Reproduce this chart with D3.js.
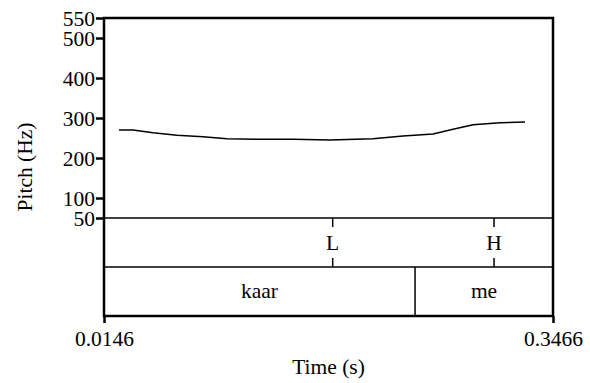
<!DOCTYPE html>
<html>
<head>
<meta charset="utf-8">
<script src="https://cdn.jsdelivr.net/npm/d3@7"></script>
<style>
  html, body { margin: 0; padding: 0; background: #fff; }
</style>
</head>
<body>
<svg id="chart" width="590" height="383"></svg>
<script>
// Time window of the sound (s)
const timeRange = [0.0146, 0.3466];
// Pitch axis range and labelled ticks (Hz)
const pitchRange = [50, 550];
const pitchTicks = [50, 100, 200, 300, 400, 500, 550];

// Pitch contour: times (s) and F0 values (Hz)
const pitchTimes = [0.0257, 0.0360, 0.0508, 0.0686, 0.0878, 0.1055, 0.1299, 0.1543,
                    0.1817, 0.2135, 0.2357, 0.2579, 0.2727, 0.2875, 0.3074, 0.3259];
const pitchValues = [270, 270, 263, 257, 253, 248, 247, 247,
                     245, 248, 255, 260, 272, 283, 288, 290];

// Tone tier (point tier)
const toneTimes = [0.1837, 0.3030];
const toneLabels = ["L", "H"];

// Word tier (interval tier): boundaries and labels
const wordBounds = [0.0146, 0.2446, 0.3466];
const wordLabels = ["kaar", "me"];

const svg = d3.select("#chart");
const frame = { left: 104, right: 553, top: 18, pitchBottom: 218, tier1Bottom: 267, bottom: 316 };
const fontSize = 21.5;
const serif = "'Liberation Serif', 'Times New Roman', serif";

const x = d3.scaleLinear().domain(timeRange).range([frame.left, frame.right]);
const y = d3.scaleLinear().domain(pitchRange).range([frame.pitchBottom, frame.top]);

function label(sel) {
  return sel.style("font-family", serif).style("font-size", fontSize + "px").attr("fill", "#000");
}

// Pitch contour
const line = d3.line().x((d, i) => x(pitchTimes[i])).y(d => y(d));
svg.append("path")
  .datum(pitchValues)
  .attr("d", line)
  .attr("fill", "none")
  .attr("stroke", "#000")
  .attr("stroke-width", 1.5);

// Left pitch axis
const yAxis = d3.axisLeft(y).tickValues(pitchTicks).tickSize(8).tickSizeOuter(0).tickPadding(1);
const gy = svg.append("g").attr("transform", `translate(${frame.left},0)`).call(yAxis);
gy.select(".domain").remove();
gy.selectAll(".tick line").attr("stroke", "#000").attr("stroke-width", 2.5);
label(gy.selectAll(".tick text")).attr("dy", "0.34em");

// Bottom time axis (end points only)
const xAxis = d3.axisBottom(x).tickValues(timeRange).tickSize(7).tickSizeOuter(0)
  .tickFormat(d3.format(".4f")).tickPadding(8);
const gx = svg.append("g").attr("transform", `translate(0,${frame.bottom})`).call(xAxis);
gx.select(".domain").remove();
gx.selectAll(".tick line").attr("stroke", "#000").attr("stroke-width", 2.5);
label(gx.selectAll(".tick text"));

// Tier separators
[frame.pitchBottom, frame.tier1Bottom].forEach(yy => {
  svg.append("line")
    .attr("x1", frame.left).attr("x2", frame.right).attr("y1", yy).attr("y2", yy)
    .attr("stroke", "#000").attr("stroke-width", 1.5);
});

// Tone tier: point marks with labels
const tierMid1 = (frame.pitchBottom + frame.tier1Bottom) / 2;
toneTimes.forEach((t, i) => {
  const xx = x(t);
  svg.append("line").attr("x1", xx).attr("x2", xx)
    .attr("y1", frame.pitchBottom).attr("y2", frame.pitchBottom + 9)
    .attr("stroke", "#000").attr("stroke-width", 1.5);
  svg.append("line").attr("x1", xx).attr("x2", xx)
    .attr("y1", frame.tier1Bottom - 9).attr("y2", frame.tier1Bottom)
    .attr("stroke", "#000").attr("stroke-width", 1.5);
  label(svg.append("text")).attr("x", xx).attr("y", tierMid1)
    .attr("text-anchor", "middle").attr("dy", "0.35em")
    .text(toneLabels[i]);
});

// Word tier: interval boundaries and labels
const tierMid2 = (frame.tier1Bottom + frame.bottom) / 2;
wordBounds.slice(1, -1).forEach(t => {
  svg.append("line").attr("x1", x(t)).attr("x2", x(t))
    .attr("y1", frame.tier1Bottom).attr("y2", frame.bottom)
    .attr("stroke", "#000").attr("stroke-width", 1.5);
});
wordLabels.forEach((lab, i) => {
  label(svg.append("text"))
    .attr("x", (x(wordBounds[i]) + x(wordBounds[i + 1])) / 2)
    .attr("y", tierMid2).attr("dy", "0.3em")
    .attr("text-anchor", "middle").text(lab);
});

// Outer frame
svg.append("rect")
  .attr("x", frame.left).attr("y", frame.top)
  .attr("width", frame.right - frame.left).attr("height", frame.bottom - frame.top)
  .attr("fill", "none").attr("stroke", "#000").attr("stroke-width", 2.5);

// Axis titles
label(svg.append("text"))
  .attr("x", (frame.left + frame.right) / 2).attr("y", 374)
  .attr("text-anchor", "middle").text("Time (s)");
label(svg.append("text"))
  .attr("transform", `translate(32,${(frame.top + frame.bottom) / 2}) rotate(-90)`)
  .attr("text-anchor", "middle").text("Pitch (Hz)");
</script>
</body>
</html>
